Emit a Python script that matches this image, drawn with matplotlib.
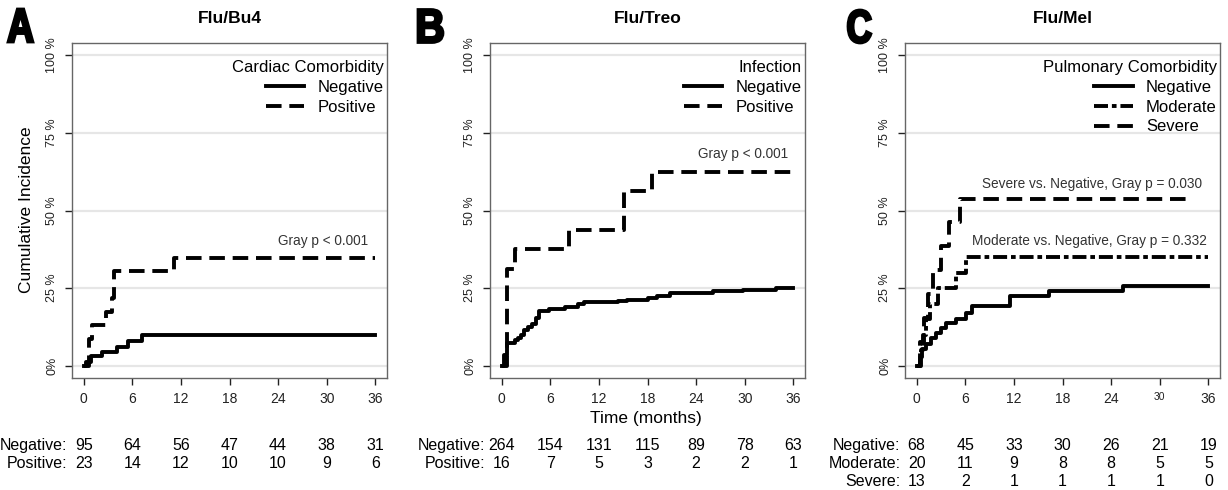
import matplotlib
matplotlib.use("Agg")
import matplotlib.pyplot as plt
from matplotlib import font_manager
from matplotlib.font_manager import FontProperties
from matplotlib.textpath import TextPath
from matplotlib.patches import PathPatch
from matplotlib.transforms import (Affine2D, IdentityTransform,
                                   blended_transform_factory, offset_copy)

# ---- data ----
month_ticks = [0, 6, 12, 18, 24, 30, 36]
pct_ticks = [0, 25, 50, 75, 100]
pct_labels = ["0%", "25 %", "50 %", "75 %", "100 %"]

# A: Flu/Bu4, cardiac comorbidity
a_neg_t = [0, 0.3, 0.9, 2.3, 4.1, 5.5, 7.2, 36]
a_neg_v = [0, 1.1, 3.1, 4.4, 6.1, 8.0, 9.8, 9.8]
a_pos_t = [0, 0.6, 1.0, 2.7, 3.5, 3.8, 11.1, 36]
a_pos_v = [0, 8.7, 13.0, 17.4, 21.7, 30.4, 34.8, 34.8]
a_risk_neg = [95, 64, 56, 47, 44, 38, 31]
a_risk_pos = [23, 14, 12, 10, 10, 9, 6]

# B: Flu/Treo, infection
b_neg_t = [0, 0.3, 0.6, 1.6, 2.0, 2.4, 2.8, 3.2, 3.8, 4.2, 4.6, 5.9, 7.8, 9.4,
           10.2, 14.3, 15.5, 18.0, 19.2, 20.8, 26.1, 29.8, 33.9, 36]
b_neg_v = [0, 3.5, 7.2, 8.3, 9.0, 10.0, 11.5, 12.5, 13.5, 15.5, 17.6, 18.3, 19.0, 19.7,
           20.4, 20.8, 21.2, 21.8, 22.5, 23.4, 23.9, 24.5, 25.0, 25.0]
b_pos_t = [0, 0.6, 1.6, 8.3, 15.1, 18.6, 36]
b_pos_v = [0, 31.25, 37.5, 43.75, 56.25, 62.5, 62.5]
b_risk_neg = [264, 154, 131, 115, 89, 78, 63]
b_risk_pos = [16, 7, 5, 3, 2, 2, 1]

# C: Flu/Mel, pulmonary comorbidity
c_neg_t = [0, 0.4, 0.7, 1.2, 1.8, 2.4, 3.0, 3.6, 4.8, 6.05, 6.85, 11.5, 16.3, 25.5, 36]
c_neg_v = [0, 2.9, 5.2, 6.9, 8.9, 10.5, 12.2, 13.8, 15.1, 17.1, 19.2, 22.4, 23.9, 25.6, 25.6]
c_mod_t = [0, 0.5, 0.8, 1.1, 1.6, 2.6, 4.8, 6.1, 36]
c_mod_v = [0, 5, 10, 15, 20, 25, 30, 35, 35]
c_sev_t = [0, 0.4, 0.9, 1.4, 2.0, 3.0, 4.0, 5.4, 33.2]
c_sev_v = [0, 7.7, 15.4, 23.1, 30.8, 38.5, 46.2, 53.8, 53.8]
c_risk_neg = [68, 45, 33, 30, 26, 21, 19]
c_risk_mod = [20, 11, 9, 8, 8, 5, 5]
c_risk_sev = [13, 2, 1, 1, 1, 1, 0]

# ---- fonts ----
avail = {f.name for f in font_manager.fontManager.ttflist}
SANS = "Liberation Sans" if "Liberation Sans" in avail else "DejaVu Sans"
plt.rcParams["font.family"] = [SANS, "DejaVu Sans"]

LW = 2.8
DASH = (4.0, 2.0)
DASHDOT = (3.6, 1.0, 1.2, 1.0)
GREY = "#333333"

fig = plt.figure(figsize=(12.28, 4.9), dpi=100)
W, H = 1228.0, 490.0

ax_left = [72, 490, 905]
ax_w, ax_top, ax_bot = 315, 43, 378


def setup(ax, title):
    ax.set_xlim(-1.44, 37.44)
    ax.set_ylim(-4, 104)
    for y in pct_ticks:
        ax.axhline(y, color="#e6e6e6", lw=1.6, zorder=0)
    ax.set_xticks(month_ticks)
    ax.set_xticklabels([str(m) for m in month_ticks], fontsize=10)
    ax.set_yticks(pct_ticks)
    ax.set_yticklabels(pct_labels, rotation=90, va="center", fontsize=9, color=GREY)
    ax.tick_params(length=5, width=1, pad=5, colors="#222222")
    for s in ax.spines.values():
        s.set_color("#666666")
        s.set_linewidth(1.0)
    ax.text(0.5, 1.0746, title, transform=ax.transAxes, ha="center", va="center",
            fontsize=12.5, fontweight="bold")


def risk_table(ax, labels, rows, ys):
    tr = blended_transform_factory(ax.transData, fig.transFigure)
    tr_lab = offset_copy(tr, fig=fig, x=-16, y=0, units="dots")
    for lab, row, y in zip(labels, rows, ys):
        ax.text(0, y, lab + ":", transform=tr_lab, ha="right", va="center",
                fontsize=11.5, clip_on=False)
        for m, n in zip(month_ticks, row):
            ax.text(m, y, str(n), transform=tr, ha="center", va="center",
                    fontsize=11.5, clip_on=False)


axes = []
for left in ax_left:
    ax = fig.add_axes([left / W, 1 - ax_bot / H, ax_w / W, (ax_bot - ax_top) / H])
    axes.append(ax)

row_y = [1 - 445.7 / H, 1 - 463.3 / H, 1 - 481.7 / H]
leg_kw = dict(loc="upper right", bbox_to_anchor=(1.0, 0.958), frameon=False,
              alignment="right", fontsize=12, title_fontsize=12, handlelength=2.3,
              handletextpad=0.8, labelspacing=0.28, borderaxespad=0.0, borderpad=0.2)

# A
ax = axes[0]
setup(ax, "Flu/Bu4")
l1, = ax.step(a_neg_t, a_neg_v, where="post", color="black", lw=LW, label="Negative")
l2, = ax.step(a_pos_t, a_pos_v, where="post", color="black", lw=LW, dashes=DASH,
              label="Positive")
ax.legend(handles=[l1, l2], title="Cardiac Comorbidity", **leg_kw)
ax.text(35.1, 40.3, "Gray p < 0.001", ha="right", va="center", fontsize=9.8, color=GREY)
risk_table(ax, ["Negative", "Positive"], [a_risk_neg, a_risk_pos], row_y)

# B
ax = axes[1]
setup(ax, "Flu/Treo")
l1, = ax.step(b_neg_t, b_neg_v, where="post", color="black", lw=LW, label="Negative")
l2, = ax.step(b_pos_t, b_pos_v, where="post", color="black", lw=LW, dashes=DASH,
              label="Positive")
ax.legend(handles=[l1, l2], title="Infection", **leg_kw)
ax.text(35.4, 68.1, "Gray p < 0.001", ha="right", va="center", fontsize=9.8, color=GREY)
risk_table(ax, ["Negative", "Positive"], [b_risk_neg, b_risk_pos], row_y)
fig.text(646 / W, 1 - 418 / H, "Time (months)", ha="center", va="center", fontsize=12.5)

# C
ax = axes[2]
setup(ax, "Flu/Mel")
l1, = ax.step(c_neg_t, c_neg_v, where="post", color="black", lw=LW, label="Negative")
l2, = ax.step(c_mod_t, c_mod_v, where="post", color="black", lw=LW, dashes=DASHDOT,
              label="Moderate")
l3, = ax.step(c_sev_t, c_sev_v, where="post", color="black", lw=LW, dashes=DASH,
              label="Severe")
ax.legend(handles=[l1, l2, l3], title="Pulmonary Comorbidity", **leg_kw)
ax.text(35.2, 58.4, "Severe vs. Negative, Gray p = 0.030", ha="right", va="center",
        fontsize=9.8, color=GREY)
ax.text(35.8, 40.2, "Moderate vs. Negative, Gray p = 0.332", ha="right", va="center",
        fontsize=9.8, color=GREY)
ax.get_xticklabels()[5].set_fontsize(7.5)
risk_table(ax, ["Negative", "Moderate", "Severe"], [c_risk_neg, c_risk_mod, c_risk_sev],
           row_y)

# shared y label
fig.text(27 / W, 1 - 210 / H, "Cumulative Incidence", rotation=90, ha="center",
         va="center", fontsize=12.5)

# panel letters: bold glyphs squeezed into a tall, narrow box (pixel coordinates)
fp = FontProperties(family=SANS, weight="bold")
for letter, xc, yc, w in zip("ABC", [20.5, 430.5, 859.5], [25.5, 26, 26.5], [25, 25, 23]):
    tp = TextPath((0, 0), letter, size=1, prop=fp)
    bb = tp.get_extents()
    tf = (Affine2D().translate(-(bb.x0 + bb.x1) / 2, -(bb.y0 + bb.y1) / 2)
          .scale(w / bb.width, 33 / bb.height).translate(xc, H - yc))
    fig.add_artist(PathPatch(tf.transform_path(tp), facecolor="black", edgecolor="black",
                             lw=2.0, transform=IdentityTransform()))

fig.savefig("out.png", dpi=100)
